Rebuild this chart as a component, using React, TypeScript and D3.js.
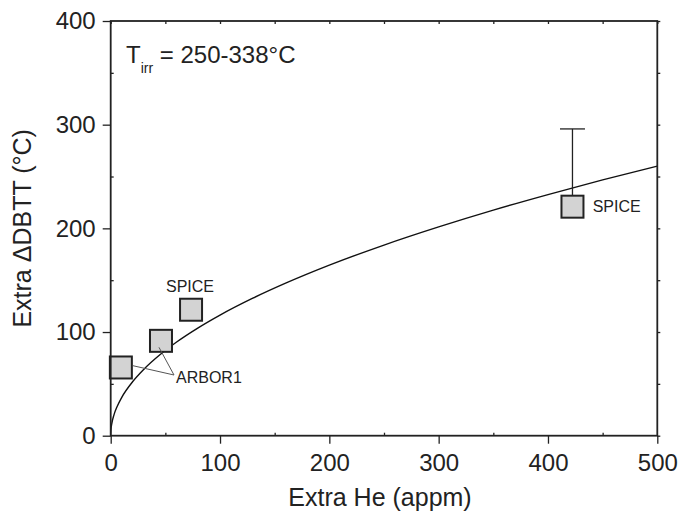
import React, { useRef, useEffect } from 'react';
import * as d3 from 'd3';

// measured points (Extra He in appm, Extra ΔDBTT in °C)
const pointHe = [9.3, 46, 73.5, 422.4];
const pointDbtt = [65.8, 91.5, 121.5, 220.9];
const pointUpper = [null, null, null, 295.9];

// fit curve
const curveHe = [0, 0.25, 1, 3, 6, 10, 20, 30, 45, 60, 80, 100, 130, 160, 200, 250, 300, 350, 400, 450, 500];
const curveDbtt = [0, 5.8, 11.6, 20.1, 28.5, 36.8, 52, 63.7, 78, 90.1, 104, 116.3, 132.6, 147.1, 164.5, 183.9, 201.4, 217.6, 232.6, 246.7, 260];

const xMajor = [0, 100, 200, 300, 400, 500];
const yMajor = [0, 100, 200, 300, 400];
const xMinor = [50, 150, 250, 350, 450];
const yMinor = [50, 150, 250, 350];

const W = 680;
const H = 513;
const FONT = 'Liberation Sans, Arial, Helvetica, sans-serif';

const x = d3.scaleLinear().domain([0, 500]).range([110.7, 657.3]);
const y = d3.scaleLinear().domain([0, 400]).range([435.7, 21]);

export default function App() {
    const axesRef = useRef<SVGGElement>(null);

    useEffect(() => {
        const g = d3.select(axesRef.current);
        g.selectAll('*').remove();
        const style = (sel: any, withText = true) => {
            sel.select('.domain').remove();
            sel.selectAll('line').attr('stroke', '#222').attr('stroke-width', 1.3);
            if (withText) sel.selectAll('text').attr('font-family', FONT).attr('font-size', 24).attr('fill', '#222');
        };
        // major ticks, outward
        g.append('g').attr('transform', `translate(0,${y(0)})`)
            .call(d3.axisBottom(x).tickValues(xMajor).tickSize(8).tickPadding(10).tickFormat(d3.format('d')))
            .call(style);
        g.append('g').attr('transform', `translate(${x(0)},0)`)
            .call(d3.axisLeft(y).tickValues(yMajor).tickSize(8).tickPadding(7).tickFormat(d3.format('d')))
            .call(style);
        // minor ticks, inward
        g.append('g').attr('transform', `translate(0,${y(0)})`)
            .call(d3.axisBottom(x).tickValues(xMinor).tickSize(-3).tickFormat(() => ''))
            .call((s: any) => style(s, false));
        g.append('g').attr('transform', `translate(${x(0)},0)`)
            .call(d3.axisLeft(y).tickValues(yMinor).tickSize(-3).tickFormat(() => ''))
            .call((s: any) => style(s, false));
        g.append('g').attr('transform', `translate(0,${y(400)})`)
            .call(d3.axisTop(x).tickValues([...xMajor, ...xMinor]).tickSize(-3).tickFormat(() => ''))
            .call((s: any) => style(s, false));
        g.append('g').attr('transform', `translate(${x(500)},0)`)
            .call(d3.axisRight(y).tickValues([...yMajor, ...yMinor]).tickSize(3).tickFormat(() => ''))
            .call((s: any) => style(s, false));
    }, []);

    const line = d3.line<number>()
        .x((d) => x(curveHe[d]))
        .y((d) => y(curveDbtt[d]))
        .curve(d3.curveMonotoneX);
    const curvePath = line(curveHe.map((_, i) => i)) || '';

    const sq = 22;

    return (
        <svg width={W} height={H} style={{ position: 'absolute', left: 0, top: 0, background: '#fff' }}>
            <path d={curvePath} fill="none" stroke="#111" strokeWidth={1.4} />

            {/* error bar */}
            {pointHe.map((h, i) =>
                pointUpper[i] == null ? null : (
                    <g key={`e${i}`} stroke="#222" strokeWidth={1.3}>
                        <line x1={x(h)} x2={x(h)} y1={y(pointDbtt[i])} y2={y(pointUpper[i] as number)} />
                        <line x1={x(h) - 12.5} x2={x(h) + 12.5} y1={y(pointUpper[i] as number)} y2={y(pointUpper[i] as number)} />
                    </g>
                )
            )}

            {pointHe.map((h, i) => (
                <rect
                    key={`p${i}`}
                    x={x(h) - sq / 2}
                    y={y(pointDbtt[i]) - sq / 2}
                    width={sq}
                    height={sq}
                    fill="#d3d3d3"
                    stroke="#222"
                    strokeWidth={2}
                />
            ))}

            {/* leader lines for ARBOR1 */}
            <line x1={x(pointHe[0]) + 12} y1={y(pointDbtt[0]) - 1.8} x2={174} y2={375} stroke="#555" strokeWidth={1} />
            <line x1={x(pointHe[1]) - 2} y1={y(pointDbtt[1]) + 6.5} x2={174} y2={375} stroke="#555" strokeWidth={1} />

            {/* frame */}
            <rect x={x(0)} y={y(400)} width={x(500) - x(0)} height={y(0) - y(400)} fill="none" stroke="#222" strokeWidth={1.8} />

            <g ref={axesRef} />

            <g fontFamily={FONT} fill="#222">
                <text x={190} y={291.7} fontSize={16} textAnchor="middle">SPICE</text>
                <text x={592.7} y={212.3} fontSize={16}>SPICE</text>
                <text x={176} y={382.5} fontSize={16}>ARBOR1</text>

                <text x={126} y={63.3} fontSize={24}>
                    T
                    <tspan fontSize={14} dy={10}>irr</tspan>
                    <tspan dy={-10}> = 250-338°C</tspan>
                </text>

                <text x={380} y={506} fontSize={25} textAnchor="middle">Extra He (appm)</text>
                <text transform={`translate(31,${(y(0) + y(400)) / 2}) rotate(-90)`} fontSize={25} textAnchor="middle">
                    Extra ΔDBTT (°C)
                </text>
            </g>
        </svg>
    );
}
